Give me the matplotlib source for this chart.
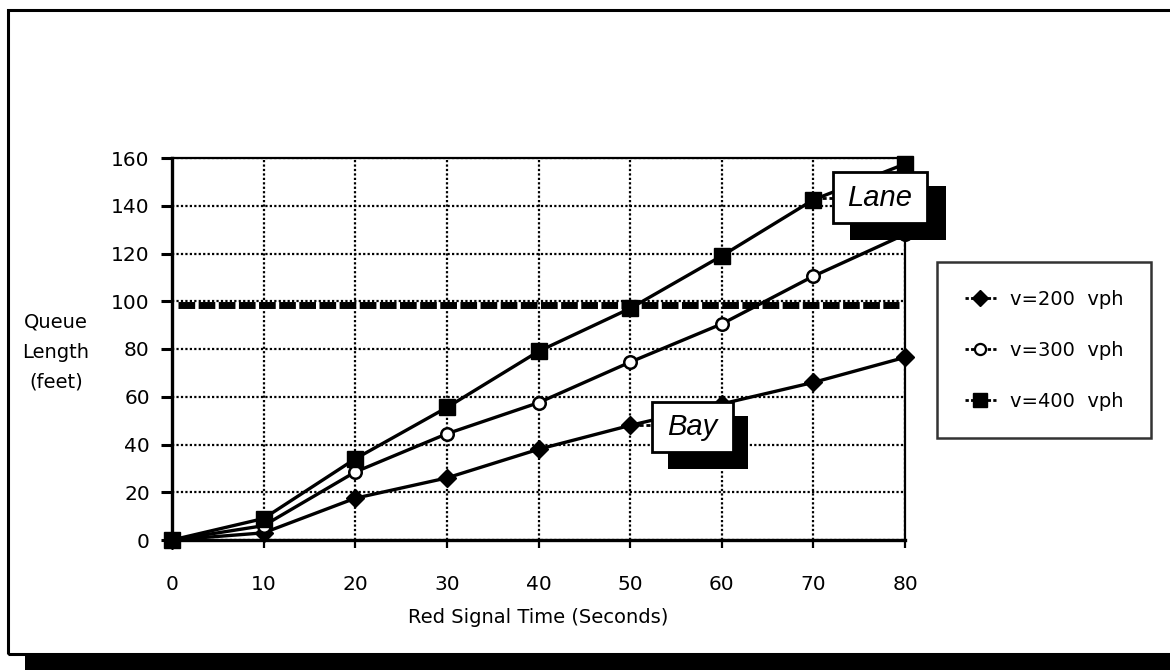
import matplotlib
matplotlib.use("Agg")
import matplotlib.pyplot as plt
from matplotlib.patches import Rectangle
from matplotlib.lines import Line2D

plt.rcParams['font.family'] = ['DejaVu Sans']

# ---- data ----
red_time = [0, 10, 20, 30, 40, 50, 60, 70, 80]
q_200 = [0, 3, 17.5, 26, 38, 48, 57, 66, 76.5]
q_300 = [0, 6, 28.5, 44.5, 57.5, 74.5, 90.5, 110.5, 128]
q_400 = [0, 9, 34, 55.5, 79, 97, 119, 142.5, 157.5]
series_labels = ["v=200  vph", "v=300  vph", "v=400  vph"]
threshold_x = [0.7, 79.3]
threshold_y = [98.5, 98.5]
x_ticks = [0, 10, 20, 30, 40, 50, 60, 70, 80]
y_ticks = [0, 20, 40, 60, 80, 100, 120, 140, 160]

W, H = 1170, 670
fig = plt.figure(figsize=(W / 100, H / 100), dpi=100)
fig.patch.set_facecolor('white')


def fx(x):
    return x / W


def fy(y):
    return 1 - y / H


def prect(x0, y0, x1, y1, **kw):
    r = Rectangle((fx(x0), fy(y1)), fx(x1) - fx(x0), fy(y0) - fy(y1),
                  transform=fig.transFigure, **kw)
    fig.add_artist(r)
    return r


# outer frame and shadow
prect(8, 10, 1190, 654, facecolor='none', edgecolor='black', lw=2.2, zorder=0)
prect(25, 655, 1170, 670, facecolor='black', edgecolor='none', zorder=0)

ax = fig.add_axes([fx(172), fy(540), fx(905) - fx(172), fy(158) - fy(540)])
ax.set_xlim(0, 80)
ax.set_ylim(0, 160)
ax.set_xticks(x_ticks)
ax.set_yticks(y_ticks)
ax.grid(True, color='black', linestyle=(0, (1, 1)), lw=1.6, zorder=1)
ax.set_axisbelow(True)
for s in ['top', 'right']:
    ax.spines[s].set_linestyle((0, (1, 1)))
    ax.spines[s].set_linewidth(1.6)
for s in ['left', 'bottom']:
    ax.spines[s].set_linewidth(2.4)
ax.tick_params(axis='y', direction='out', length=8, width=2.2, pad=8, labelsize=14.5)
ax.tick_params(axis='x', direction='out', length=6, width=1.6, pad=19, labelsize=14.5)

# threshold dashed line
ax.plot(threshold_x, threshold_y, color='black', lw=5, linestyle=(0, (2.4, 0.5)),
        solid_capstyle='butt', dash_capstyle='butt', zorder=2)

kw = dict(color='black', lw=2.4, clip_on=False, zorder=3)
l1, = ax.plot(red_time, q_200, marker='D', markersize=9, markerfacecolor='black',
              markeredgecolor='black', **kw)
l2, = ax.plot(red_time, q_300, marker='o', markersize=9, markerfacecolor='white',
              markeredgecolor='black', markeredgewidth=1.8, **kw)
l3, = ax.plot(red_time, q_400, marker='s', markersize=11, markerfacecolor='black',
              markeredgecolor='black', **kw)

ax.set_xlabel("Red Signal Time (Seconds)", fontsize=14, labelpad=10)
fig.text(fx(56), fy(352), "Queue\nLength\n(feet)", ha='center', va='center',
         fontsize=14, linespacing=1.7)

# legend
h1 = Line2D([], [], color='black', lw=2, linestyle=(0, (1.2, 0.8)), marker='D',
            markersize=8, markerfacecolor='black')
h2 = Line2D([], [], color='black', lw=2, linestyle=(0, (1.2, 0.8)), marker='o',
            markersize=8, markerfacecolor='white', markeredgewidth=1.6)
h3 = Line2D([], [], color='black', lw=2, linestyle=(0, (1.2, 0.8)), marker='s',
            markersize=10, markerfacecolor='black')
leg = fig.legend([h1, h2, h3], series_labels, loc='upper left',
                 bbox_to_anchor=(fx(937), fy(262)), frameon=True, fancybox=False,
                 fontsize=14, handlelength=1.6, handletextpad=0.75,
                 labelspacing=1.65, borderpad=1.42, borderaxespad=0)
leg.get_frame().set_edgecolor('black')
leg.get_frame().set_linewidth(1.8)

# "Lane" callout
fig.add_artist(Line2D([fx(822), fx(834)], [fy(198), fy(198)], transform=fig.transFigure,
                      color='black', lw=2, linestyle=(0, (1.5, 1)), zorder=6))
prect(850, 186, 946, 240, facecolor='black', edgecolor='none', zorder=6)
prect(833, 172, 927, 223, facecolor='white', edgecolor='black', lw=2, zorder=7)
fig.text(fx(880), fy(198), "Lane", ha='center', va='center', fontsize=21,
         style='italic', family=['Liberation Sans'], zorder=8)

# "Bay" callout
fig.add_artist(Line2D([fx(632), fx(653)], [fy(425), fy(425)], transform=fig.transFigure,
                      color='black', lw=2, linestyle=(0, (1.5, 1)), zorder=6))
prect(668, 416, 748, 469, facecolor='black', edgecolor='none', zorder=6)
prect(652, 402, 733, 452, facecolor='white', edgecolor='black', lw=2, zorder=7)
fig.text(fx(692), fy(427), "Bay", ha='center', va='center', fontsize=21,
         style='italic', family=['Liberation Sans'], zorder=8)

fig.savefig("out.png", dpi=100, facecolor='white')
